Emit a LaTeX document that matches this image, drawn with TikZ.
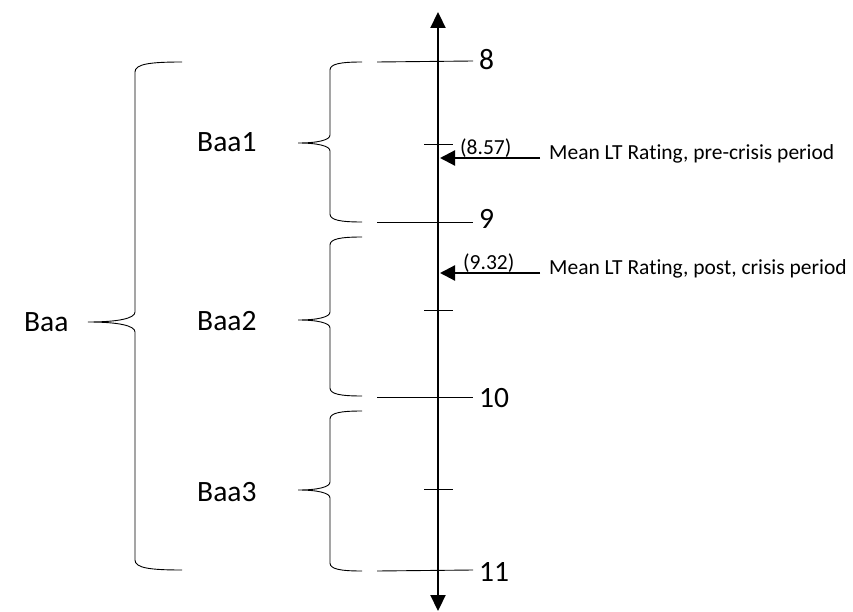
\documentclass[tikz,border=0pt]{standalone}
\usepackage{fontspec}
\setmainfont{Carlito}[RawFeature={-liga;-clig}]
\usetikzlibrary{arrows.meta}
\tikzset{
  bigtext/.style={font=\fontsize{29.5}{34}\selectfont, inner sep=0pt},
  smalltext/.style={font=\fontsize{21.5}{25}\selectfont, inner sep=0pt},
  thinline/.style={line width=0.9pt, black},
  axisline/.style={line width=2.2pt, black, {Triangle[length=16pt,width=15pt]}-{Triangle[length=16pt,width=15pt]}},
  pointer/.style={line width=2.2pt, black, -{Triangle[length=15pt,width=15pt]}},
}
\begin{document}
\begin{tikzpicture}[x=1pt,y=-1pt]
\useasboundingbox (0,0) rectangle (853,612);
% axis
\coordinate (atop) at (438,12);
\coordinate (abot) at (438,611);
\draw[axisline] (abot) -- (atop);
% main tick labels
\node[bigtext, anchor=west] (l8) at (479,60) {8};
\node[bigtext, anchor=west] (l9) at (479,219) {9};
\node[bigtext, anchor=west] (l10) at (479,398) {10};
\node[bigtext, anchor=west] (l11) at (479,572) {11};
% main ticks
\coordinate (t8) at (377,62);
\coordinate (t9) at (377,222);
\coordinate (t10) at (377,397);
\coordinate (t11) at (377,571);
\coordinate (e8) at (473,61);
\coordinate (e9) at (473,222);
\coordinate (e10) at (473,397);
\coordinate (e11) at (473,570);
\draw[thinline] (t8) -- (e8);
\draw[thinline] (t9) -- (e9);
\draw[thinline] (t10) -- (e10);
\draw[thinline] (t11) -- (e11);
% short ticks
\draw[thinline] (424,144) -- (453,144);
\draw[thinline] (424,310) -- (453,310);
\draw[thinline] (424,489) -- (453,489);
% pointers
\node[smalltext, anchor=west] (m1) at (549,154) {Mean LT Rating, pre-crisis period};
\node[smalltext, anchor=west] (m2) at (549,269) {Mean LT Rating, post, crisis period};
\node[smalltext, anchor=south west] (v1) at (460,158) {(8.57)};
\node[smalltext, anchor=south west] (v2) at (463,273) {(9.32)};
\coordinate (s1) at (540,158);
\coordinate (s2) at (540,273);
\coordinate (p1) at (440,158);
\coordinate (p2) at (440,273);
\draw[pointer] (s1) -- (p1);
\draw[pointer] (s2) -- (p2);
% labels
\node[bigtext, anchor=west] (baa) at (24,322) {Baa};
\node[bigtext, anchor=west] (baa1) at (197,142) {Baa1};
\node[bigtext, anchor=west] (baa2) at (197,321) {Baa2};
\node[bigtext, anchor=west] (baa3) at (197,492) {Baa3};
% big brace
\draw[thinline] (182,62) .. controls (150,62) and (135,64) .. (135,72) -- (135,312)
  .. controls (135,318) and (120,322) .. (88,322)
  .. controls (120,322) and (135,326) .. (135,332) -- (135,560)
  .. controls (135,568) and (150,570) .. (182,570);
% sub braces
\draw[thinline] (362,62) .. controls (340,62) and (330,64) .. (330,70) -- (330,135)
  .. controls (330,140) and (318,143) .. (298,143)
  .. controls (318,143) and (330,146) .. (330,151) -- (330,214)
  .. controls (330,220) and (340,222) .. (362,222);
\draw[thinline] (362,237) .. controls (340,237) and (330,239) .. (330,245) -- (330,312)
  .. controls (330,317) and (318,320) .. (298,320)
  .. controls (318,320) and (330,323) .. (330,328) -- (330,388)
  .. controls (330,394) and (340,396) .. (362,396);
\draw[thinline] (362,411) .. controls (340,411) and (330,413) .. (330,419) -- (330,482)
  .. controls (330,487) and (318,490) .. (298,490)
  .. controls (318,490) and (330,493) .. (330,498) -- (330,563)
  .. controls (330,569) and (340,571) .. (362,571);
\end{tikzpicture}
\end{document}
